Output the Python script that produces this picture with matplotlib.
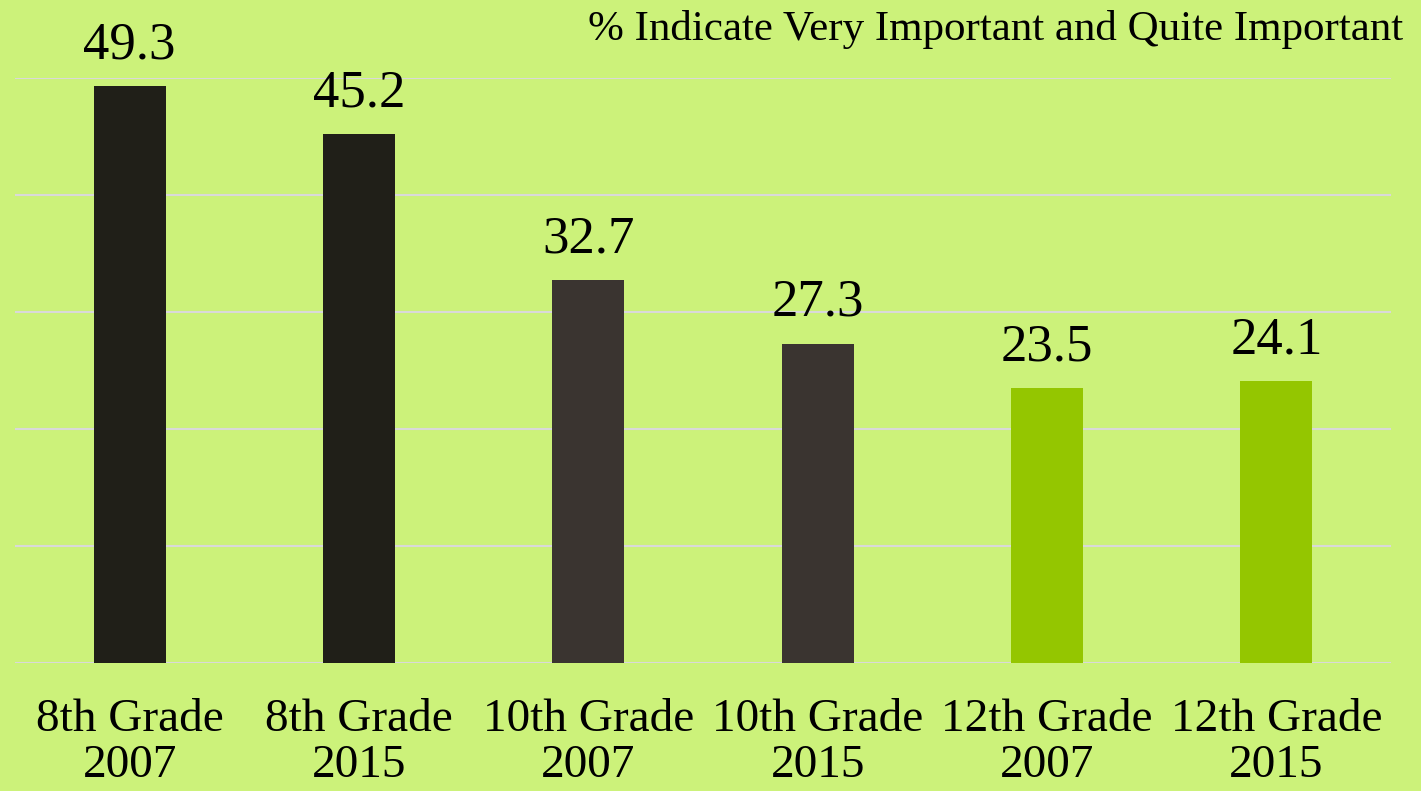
import numpy as np
import matplotlib
matplotlib.use("Agg")
import matplotlib.pyplot as plt

matplotlib.rcParams['font.family'] = 'serif'
matplotlib.rcParams['font.serif'] = ['Liberation Serif', 'DejaVu Serif']

# Data
categories = ["8th Grade\n2007", "8th Grade\n2015", "10th Grade\n2007",
              "10th Grade\n2015", "12th Grade\n2007", "12th Grade\n2015"]
values = [49.3, 45.2, 32.7, 27.3, 23.5, 24.1]
bar_colors = ["#201f18", "#201f18", "#3a3430", "#3a3430", "#94c600", "#94c600"]

bg = "#ccf27a"

fig = plt.figure(figsize=(14.21, 7.91), dpi=100, facecolor=bg)
ax = fig.add_axes([15/1421, 1 - 663/791, 1376/1421, (663 - 78)/791])
ax.set_facecolor(bg)

x = np.arange(len(categories))
bars = ax.bar(x, values, width=0.315, color=bar_colors, zorder=3)

for xi, v in zip(x, values):
    ax.annotate(f"{v:.1f}", (xi, v), xytext=(0, 12), textcoords="offset points",
                ha="center", va="bottom", fontsize=38, color="black")

ax.set_xlim(-0.5, len(categories) - 0.5)
ax.set_ylim(0, 50)
ax.set_yticks(np.arange(0, 51, 10))
ax.yaxis.grid(True, color="#d9d9d9", linewidth=1.5, zorder=0)
ax.tick_params(axis="y", left=False, labelleft=False)
ax.set_xticks(x)
ax.set_xticklabels(categories, fontsize=34, linespacing=1.1)
ax.tick_params(axis="x", bottom=False, pad=22)
for s in ax.spines.values():
    s.set_visible(False)

fig.text(1403/1421, 1 - 10/791, "% Indicate Very Important and Quite Important",
         ha="right", va="top", fontsize=31, color="black")

fig.savefig("out.png", dpi=100, facecolor=bg)
